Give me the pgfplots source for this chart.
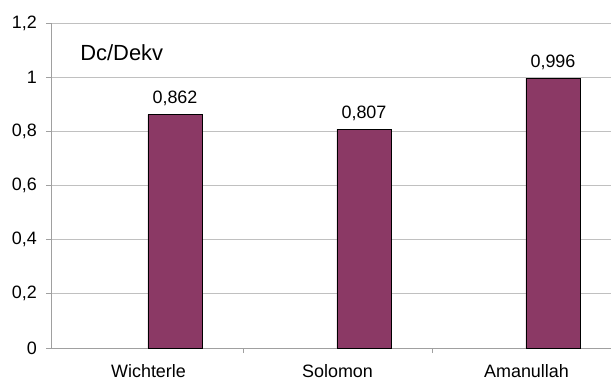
\documentclass[border=0pt]{standalone}
\usepackage{pgfplots}
\pgfplotsset{compat=1.18}
\usepackage{fontspec}
\setmainfont{Liberation Sans}
\definecolor{barplum}{RGB}{139,57,101}
\definecolor{gridgray}{RGB}{192,192,192}
\definecolor{axisgray}{RGB}{160,160,160}
\begin{document}
\begin{tikzpicture}
\begin{axis}[
  scale only axis,
  width=560bp, height=325bp,
  xmin=-0.516, xmax=2.447,
  ymin=0, ymax=1.2,
  axis x line*=bottom, axis y line*=left,
  axis line style={axisgray, line width=0.8bp, -},
  ytick={0,0.2,0.4,0.6,0.8,1,1.2},
  ymajorgrids,
  grid style={gridgray, line width=0.8bp},
  xtick={0,1,2},
  xticklabels={Wichterle,Solomon,Amanullah},
  major x tick style={draw=none},
  minor xtick={0.5,1.5},
  tick align=outside,
  major tick length=5bp, minor tick length=5bp,
  tick style={axisgray, line width=0.8bp},
  tick label style={font=\fontsize{18}{21}\selectfont},
  xticklabel style={inner sep=0pt, anchor=north, yshift=-11bp},
  yticklabel style={inner sep=0pt, anchor=east, xshift=-9bp},
  /pgf/number format/use comma,
  /pgf/number format/1000 sep={},
  /pgf/number format/assume math mode=true,
]
\addplot[ybar, bar width=54bp, fill=barplum, draw=black, line width=0.8bp,
  nodes near coords={\pgfmathprintnumber[fixed, precision=3]{\pgfplotspointmeta}},
  every node near coord/.append style={font=\fontsize{18}{21}\selectfont,
    anchor=base, inner sep=0pt, yshift=11bp}]
  coordinates {(0.14,0.862) (1.14,0.807) (2.14,0.996)};
\node[anchor=base west, inner sep=0pt, font=\fontsize{22}{26}\selectfont]
  at (rel axis cs:0.052,0.886) {Dc/Dekv};
\coordinate (bl) at (rel axis cs:0,0);
\coordinate (tr) at (rel axis cs:1,1);
\end{axis}
\pgfresetboundingbox
\path[use as bounding box] ([xshift=-51bp,yshift=-32bp]bl) rectangle ([yshift=23bp]tr);
\end{tikzpicture}
\end{document}
